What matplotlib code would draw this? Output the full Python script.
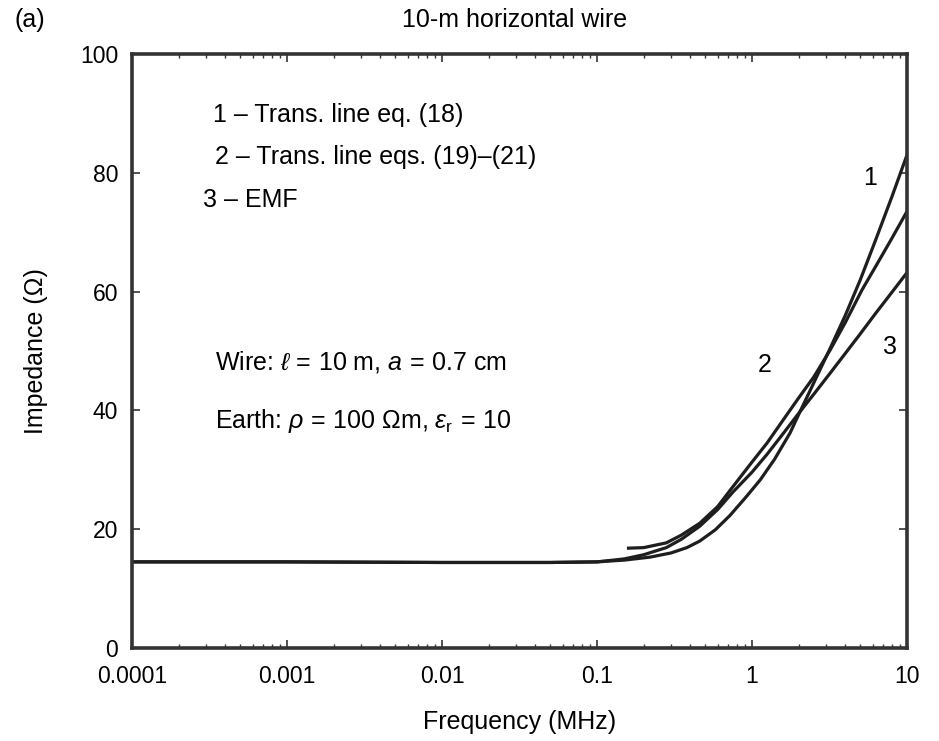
import matplotlib
matplotlib.use("Agg")
import matplotlib.pyplot as plt

plt.rcParams["font.family"] = ["Liberation Sans", "DejaVu Sans"]
plt.rcParams["mathtext.fontset"] = "custom"
plt.rcParams["mathtext.rm"] = "Liberation Sans"
plt.rcParams["mathtext.it"] = "Liberation Sans:italic"

# impedance of a 10-m horizontal wire vs frequency (MHz)
# 1 - transmission line, eq. (18)
f1 = [1e-4, 1e-3, 1e-2, 0.05, 0.1, 0.15, 0.22, 0.3, 0.38, 0.46, 0.58, 0.72, 0.9,
      1.13, 1.4, 1.76, 2.0, 2.5, 3.2, 4.0, 5.0, 6.3, 8.0, 10.0]
z1 = [14.5, 14.5, 14.4, 14.4, 14.5, 14.8, 15.3, 16.0, 16.9, 18.0, 19.9, 22.3, 25.2,
      28.3, 31.8, 36.2, 39.3, 44.6, 50.5, 56.0, 62.0, 68.8, 76.0, 83.0]

# 2 - transmission line, eqs. (19)-(21)
f2 = [0.156, 0.2, 0.28, 0.35, 0.46, 0.6, 0.75, 1.0, 1.25, 1.6, 2.0, 2.5, 3.2,
      4.0, 5.13, 6.3, 8.0, 10.0]
z2 = [16.8, 16.9, 17.7, 19.0, 21.0, 23.8, 27.1, 31.3, 34.5, 38.5, 42.1, 45.6, 50.2,
      54.8, 60.3, 64.3, 69.0, 73.5]

# 3 - EMF
f3 = [1e-4, 1e-3, 1e-2, 0.05, 0.1, 0.15, 0.2, 0.28, 0.35, 0.46, 0.6, 0.75, 1.0,
      1.25, 1.6, 2.0, 2.5, 3.2, 4.0, 5.0, 6.3, 8.0, 10.0]
z3 = [14.5, 14.5, 14.4, 14.4, 14.5, 15.0, 15.7, 16.9, 18.3, 20.5, 23.3, 26.2, 29.6,
      32.6, 36.2, 39.5, 42.7, 46.3, 49.6, 52.9, 56.4, 59.9, 63.2]

xticks = [1e-4, 1e-3, 1e-2, 0.1, 1, 10]
xticklabels = ["0.0001", "0.001", "0.01", "0.1", "1", "10"]
yticks = [0, 20, 40, 60, 80, 100]

fig = plt.figure(figsize=(9.39, 7.41), dpi=100)
ax = fig.add_axes([0.1406, 0.1255, 0.8253, 0.8016])

lc = "#1e1e1e"
for f, z in [(f1, z1), (f2, z2), (f3, z3)]:
    ax.plot(f, z, color=lc, lw=2.3, solid_capstyle="butt")

ax.set_xscale("log")
ax.set_xlim(1e-4, 10)
ax.set_ylim(0, 100)
ax.set_xticks(xticks)
ax.set_xticklabels(xticklabels)
ax.set_yticks(yticks)
ax.tick_params(which="both", direction="in", top=True, right=True,
               labelsize=16.5, color="#333333")
ax.tick_params(which="major", length=6, width=1.2)
ax.tick_params(which="minor", length=3, width=1.0)
ax.tick_params(axis="x", pad=12)
ax.tick_params(axis="y", pad=10)
for s in ax.spines.values():
    s.set_linewidth(2.6)
    s.set_color("#333333")

ax.set_xlabel("Frequency (MHz)", fontsize=18, labelpad=16)
ax.set_ylabel("Impedance (Ω)", fontsize=18, labelpad=23)

def fx(px):
    return px / 939

def fy(py):
    return 1 - py / 741

fig.text(fx(515), fy(20), "10-m horizontal wire", fontsize=18,
         ha="center", va="center")
fig.text(fx(14), fy(20), "(a)", fontsize=18, ha="left", va="center")

fig.text(fx(213), fy(115), "1 – Trans. line eq. (18)", fontsize=18, va="center")
fig.text(fx(215), fy(157), "2 – Trans. line eqs. (19)–(21)", fontsize=18, va="center")
fig.text(fx(203), fy(200), "3 – EMF", fontsize=18, va="center")
fig.text(fx(215), fy(362), r"Wire: $\ell\,=\,10$ m, $a\,=\,0.7$ cm", fontsize=18,
         va="center")
fig.text(fx(215), fy(421),
         r"Earth: $\rho\,=\,100$ $\Omega$m, $\varepsilon_{\mathrm{r}}\,=\,10$",
         fontsize=18, va="center")

fig.text(fx(870), fy(178), "1", fontsize=18, ha="center", va="center")
fig.text(fx(765), fy(365), "2", fontsize=18, ha="center", va="center")
fig.text(fx(890), fy(347), "3", fontsize=18, ha="center", va="center")

fig.savefig("out.png", dpi=100)
